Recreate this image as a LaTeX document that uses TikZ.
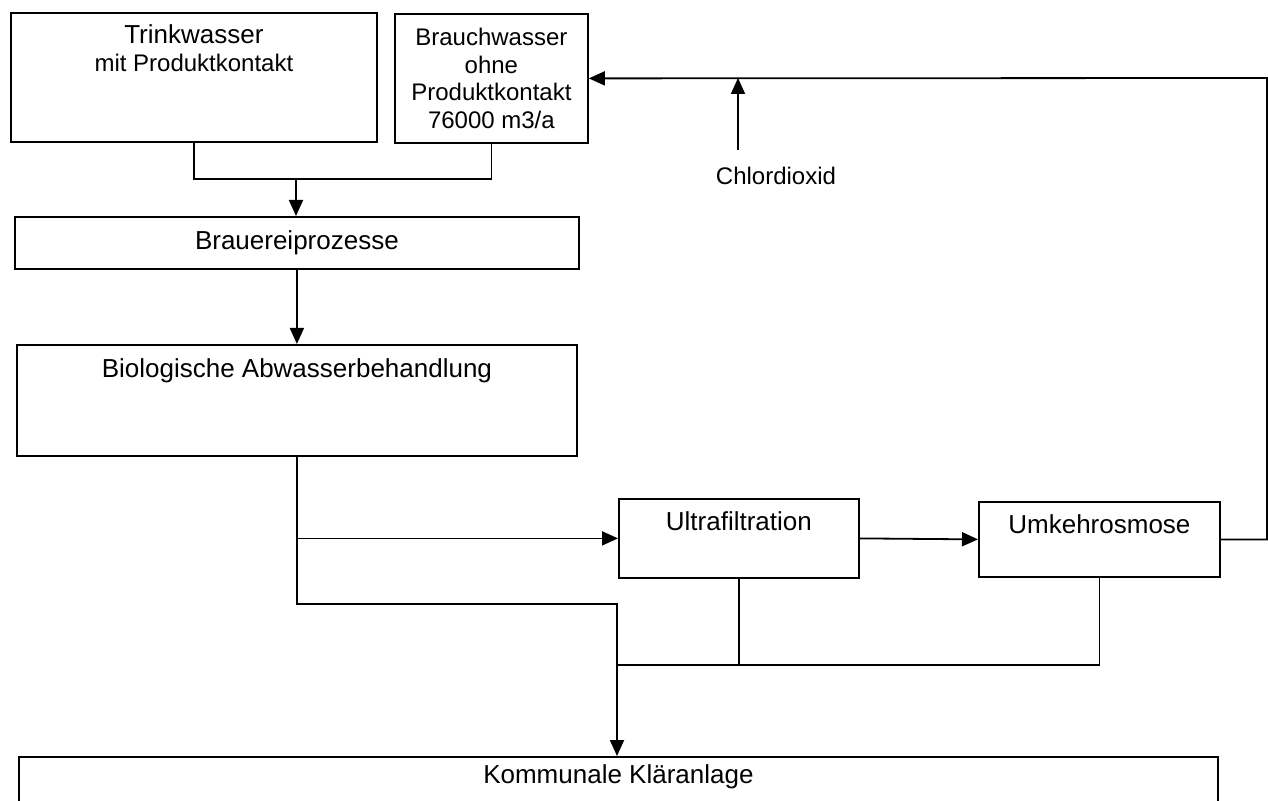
\documentclass[tikz,border=0pt]{standalone}
\usepackage{fontspec}
\setmainfont{Liberation Sans}
\usetikzlibrary{arrows.meta}

\tikzset{
  box/.style={draw, line width=0.9pt, inner sep=0pt, anchor=north west},
  boxtext/.style={anchor=north, inner sep=0pt, align=center, font=\fontsize{13}{14}\selectfont},
  pipe/.style={line width=0.9pt},
  flow/.style={line width=0.9pt, -{Triangle[length=8pt,width=7pt]}}
}

\begin{document}
\begin{tikzpicture}[x=0.5pt,y=-0.5pt]
\useasboundingbox (0,0) rectangle (1268,801);
\clip (0,0) rectangle (1268,801);
% water supply:
\node[box, minimum width=183pt, minimum height=64.5pt,
  label={[boxtext, yshift=-6pt]north:Trinkwasser\\{\fontsize{12}{13.5}\selectfont mit Produktkontakt}}] (trink) at (10,12) {};
\node[box, minimum width=96.5pt, minimum height=64.5pt, align=center,
  font=\fontsize{12}{13.8}\selectfont] (brauch) at (394,13) {Brauchwasser\\ohne\\Produktkontakt\\76000 m3/a};
% process chain:
\node[box, minimum width=282pt, minimum height=26pt, font=\fontsize{13}{14}\selectfont] (brau) at (14,216) {Brauereiprozesse};
\node[box, minimum width=280pt, minimum height=55.5pt,
  label={[boxtext, yshift=-7pt]north:Biologische Abwasserbehandlung}] (bio) at (16,344) {};
\node[box, minimum width=120pt, minimum height=39.5pt,
  label={[boxtext, yshift=-6.5pt]north:Ultrafiltration}] (uf) at (618,498) {};
\node[box, minimum width=120.5pt, minimum height=37.5pt,
  label={[boxtext, yshift=-6.5pt]north:Umkehrosmose}] (uk) at (978,501) {};
\node[box, minimum width=599.5pt, minimum height=40pt,
  label={[boxtext, yshift=-4pt]north:Kommunale Kläranlage}] (klaer) at (18,756) {};
\node[inner sep=0pt, font=\fontsize{12}{13}\selectfont] (chlor) at (776,176) {Chlordioxid};
% junctions:
\coordinate (merge) at (296,179);
\coordinate (bypass) at (617,604);
\coordinate (collect) at (617,665);
\coordinate (ret) at (1267,78);
\coordinate (dose) at (738,78);
\coordinate (dosein) at (738,150);
% supply to brewery:
\draw[pipe] (trink.south) |- (merge);\draw[pipe] (brauch.south) |- (merge);
\draw[flow] (merge) -- (merge |- brau.north);
\draw[flow] (brau.south) -- (bio.north);
% treatment:
\draw[flow] (bio.south |- uf.west) -- (uf.west);
\draw[flow] (uf.east) -- (uk.west);
\draw[flow] (bio.south) |- (bypass) -- (bypass |- klaer.north);
\draw[pipe] (uf.south) -- (uf.south |- collect);\draw[pipe] (uk.south) |- (collect);
% recycling:
\draw[flow] (uk.east) -| (ret) -- (brauch.east);
\draw[flow] (dosein) -- (dose);
\end{tikzpicture}
\end{document}
